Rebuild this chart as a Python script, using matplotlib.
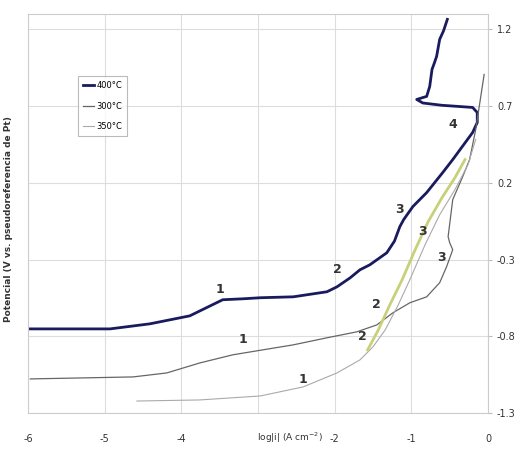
import numpy as np
import matplotlib.pyplot as plt

# polarization curves, log|i| vs potential
x_400 = [-6.0, -4.93, -4.41, -3.89, -3.46, -3.20, -2.97, -2.54, -2.10, -1.97, -1.80, -1.67, -1.54,
         -1.32, -1.22, -1.15, -1.10, -0.98, -0.80, -0.59, -0.46, -0.20, -0.14, -0.14, -0.20,
         -0.37, -0.60, -0.85, -0.93, -0.80, -0.76, -0.73, -0.70, -0.67, -0.63, -0.58, -0.53]
y_400 = [-0.752, -0.752, -0.719, -0.667, -0.562, -0.556, -0.549, -0.543, -0.510, -0.478, -0.420,
         -0.367, -0.334, -0.256, -0.180, -0.086, -0.040, 0.045, 0.136, 0.267, 0.351, 0.528, 0.593,
         0.658, 0.691, 0.697, 0.705, 0.720, 0.743, 0.763, 0.828, 0.939, 0.980, 1.024, 1.135,
         1.190, 1.265]

x_300 = [-5.97, -4.63, -4.19, -3.76, -3.33, -3.10, -2.54, -2.10, -1.71, -1.45, -1.24, -1.02, -0.80,
         -0.63, -0.54, -0.46, -0.50, -0.52, -0.46, -0.33, -0.24, -0.16, -0.10, -0.05]
y_300 = [-1.078, -1.065, -1.039, -0.974, -0.921, -0.902, -0.856, -0.810, -0.771, -0.726, -0.647,
         -0.582, -0.543, -0.451, -0.347, -0.236, -0.190, -0.151, 0.090, 0.240, 0.351, 0.547, 0.743,
         0.906]

x_350 = [-4.58, -3.76, -2.97, -2.41, -1.97, -1.67, -1.50, -1.34, -1.17, -1.02, -0.82, -0.63, -0.43,
         -0.26, -0.16]
y_350 = [-1.222, -1.215, -1.189, -1.130, -1.039, -0.954, -0.869, -0.758, -0.595, -0.432, -0.203,
         -0.008, 0.156, 0.319, 0.482]

# anodic branch recorded separately
x_seg = [-1.57, -1.43, -1.28, -1.12, -0.95, -0.78, -0.60, -0.43, -0.30]
y_seg = [-0.889, -0.758, -0.595, -0.432, -0.236, -0.053, 0.103, 0.234, 0.351]

labels = ['400°C', '300°C', '350°C']

# region numbers on each curve
lab_400 = [(-3.50, -0.497, '1'), (-1.96, -0.367, '2'), (-1.16, 0.025, '3'), (-0.46, 0.58, '4')]
lab_300 = [(-3.20, -0.823, '1'), (-1.64, -0.804, '2'), (-0.60, -0.288, '3')]
lab_350 = [(-2.41, -1.085, '1'), (-1.45, -0.595, '2'), (-0.85, -0.119, '3')]

xticks = [-6, -5, -4, -3, -2, -1, 0]
xticklabels = ['-6', '-5', '-4', '', '-2', '-1', '0']
yticks = [-1.3, -0.8, -0.3, 0.2, 0.7, 1.2]

fig = plt.figure(figsize=(5.16, 4.57), dpi=100)
ax = fig.add_axes([0.0543, 0.0963, 0.8914, 0.8731])

ax.plot(x_400, y_400, color='#1a1a5e', lw=2.0, label=labels[0])
ax.plot(x_300, y_300, color='#666666', lw=0.9, label=labels[1])
ax.plot(x_350, y_350, color='#aaaaaa', lw=0.8, label=labels[2])
ax.plot(x_seg, y_seg, color='#c8d07a', lw=2.0)

for lx, ly, t in lab_400 + lab_300 + lab_350:
    ax.text(lx, ly, t, fontsize=9, fontweight='bold', color='#333333', ha='center', va='center')

ax.set_xlim(-6, 0)
ax.set_ylim(-1.3, 1.3)
ax.set_xticks(xticks)
ax.set_xticklabels(xticklabels)
ax.set_yticks(yticks)
ax.set_yticklabels([f'{v:.1f}' for v in yticks])
ax.yaxis.tick_right()
ax.tick_params(axis='both', labelsize=7, length=3, color='#bbbbbb', labelcolor='#333333')
ax.tick_params(axis='x', length=0, pad=15)
ax.grid(True, color='#dddddd', lw=0.8)
for s in ax.spines.values():
    s.set_color('#cccccc')

ax.text(-2.58, -1.46, 'log|i| (A cm$^{-2}$)', fontsize=6.5, ha='center', va='center', color='#333333')
fig.text(0.016, 0.52, 'Potencial (V vs. pseudoreferencia de Pt)', rotation=90, fontsize=6.5,
         fontweight='bold', ha='center', va='center', color='#333333')

leg = ax.legend(loc='upper left', bbox_to_anchor=(0.1, 0.855), fontsize=6, handlelength=1.3,
                frameon=True, fancybox=False, borderpad=0.6, labelspacing=1.4, handletextpad=0.3)
leg.get_frame().set_edgecolor('#aaaaaa')
leg.get_frame().set_linewidth(0.8)

plt.savefig('out.png', dpi=100)
